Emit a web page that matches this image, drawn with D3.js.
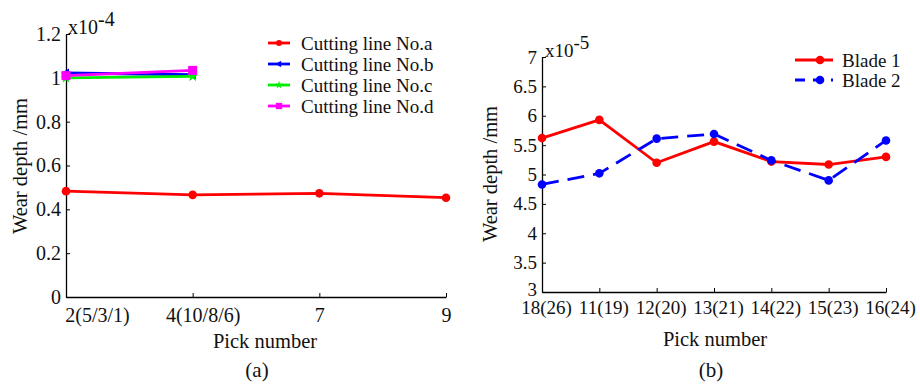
<!DOCTYPE html>
<html>
<head>
<meta charset="utf-8">
<script src="https://cdn.jsdelivr.net/npm/d3@7"></script>
<style>
  html, body { margin: 0; padding: 0; background: #fff; }
  svg { display: block; font-family: "Liberation Serif", "Times New Roman", serif; }
</style>
</head>
<body>
<svg id="chart" width="920" height="385"></svg>
<script>
// ---- Panel (a): wear depth per cutting line ----
const picksA = ["2(5/3/1)", "4(10/8/6)", "7", "9"];
const lineA = [0.483, 0.466, 0.473, 0.453];
const lineB = [1.022, 1.014];
const lineC = [1.000, 1.007];
const lineD = [1.010, 1.034];
const ticksA = [0, 0.2, 0.4, 0.6, 0.8, 1, 1.2];
const namesA = ["Cutting line No.a", "Cutting line No.b", "Cutting line No.c", "Cutting line No.d"];

// ---- Panel (b): wear depth per blade ----
const picksB = ["18(26)", "11(19)", "12(20)", "13(21)", "14(22)", "15(23)", "16(24)"];
const blade1 = [5.62, 5.93, 5.20, 5.56, 5.22, 5.17, 5.30];
const blade2 = [4.83, 5.02, 5.61, 5.69, 5.24, 4.90, 5.58];
const ticksB = [3, 3.5, 4, 4.5, 5, 5.5, 6, 6.5, 7];
const namesB = ["Blade 1", "Blade 2"];

const svg = d3.select("#chart");
const FS = 19;      // legend / panel b ticks
const FS_T = 20.5;  // axis titles

function drawAxes(g, x, y, yTicks, fmt, tickFs, xLabelDy) {
  const xAxis = d3.axisBottom(x).tickSizeInner(-4).tickSizeOuter(0).tickPadding(8);
  const gx = g.append("g").attr("transform", `translate(0,${y.range()[0]})`).call(xAxis);
  const yAxis = d3.axisLeft(y).tickValues(yTicks).tickFormat(fmt).tickSizeInner(-4).tickSizeOuter(0).tickPadding(5);
  const gy = g.append("g").attr("transform", `translate(${x.range()[0]},0)`).call(yAxis);
  [gx, gy].forEach(a => {
    a.attr("font-family", "Liberation Serif");
    a.selectAll("path.domain").attr("stroke", "#000").attr("stroke-width", 1.3);
    a.selectAll(".tick line").attr("stroke", "#000").attr("stroke-width", 1);
    a.selectAll(".tick text").attr("font-family", "Liberation Serif").attr("font-size", tickFs).attr("fill", "#111");
  });
  gx.selectAll(".tick text").attr("dy", xLabelDy);
  return { gx, gy };
}

function marker(g, type, cx, cy, color, s = 1) {
  if (type === "circle") {
    g.append("circle").attr("cx", cx).attr("cy", cy).attr("r", 4.3 * s).attr("fill", color);
  } else if (type === "square") {
    g.append("rect").attr("x", cx - 4.5 * s).attr("y", cy - 4.5 * s).attr("width", 9 * s).attr("height", 9 * s).attr("fill", color);
  } else if (type === "left") {
    g.append("path").attr("d", `M${cx - 5 * s},${cy} L${cx + 3 * s},${cy - 4.5 * s} L${cx + 3 * s},${cy + 4.5 * s} Z`).attr("fill", color);
  } else if (type === "star") {
    g.append("path").attr("d", d3.symbol(d3.symbolStar, 40 * s * s)()).attr("transform", `translate(${cx},${cy})`).attr("fill", color);
  }
}

// ---------- Panel (a) ----------
{
  const g = svg.append("g");
  const x = d3.scalePoint().domain(picksA).range([66, 446]);
  const y = d3.scaleLinear().domain([0, 1.2]).range([297, 34]);
  const { gx } = drawAxes(g, x, y, ticksA, d => d === 0 ? "0" : d === 1 ? "1" : d3.format(".1f")(d), 20, "0.85em");
  // first two category labels sit to the right of their ticks
  const labelShift = { "2(5/3/1)": 31, "4(10/8/6)": 10 };
  gx.selectAll(".tick text").attr("x", d => labelShift[d] || 0);

  const series = [
    { vals: lineA, color: "#ff0000", mk: "circle" },
    { vals: lineB, color: "#0000ff", mk: "left" },
    { vals: lineC, color: "#00ee00", mk: "star" },
    { vals: lineD, color: "#ff00ff", mk: "square" }
  ];
  const line = d3.line().x((d, i) => x(picksA[i])).y(d => y(d));
  series.forEach(s => {
    g.append("path").datum(s.vals).attr("d", line).attr("fill", "none")
      .attr("stroke", s.color).attr("stroke-width", 2.8);
    s.vals.forEach((v, i) => marker(g, s.mk, x(picksA[i]), y(v), s.color));
  });

  // exponent
  const ex = g.append("text").attr("x", 68).attr("y", 34).attr("font-size", 20).attr("fill", "#111");
  ex.append("tspan").text("x10");
  ex.append("tspan").attr("dy", -8).text("-4");

  // legend
  series.forEach((s, i) => {
    const ly = 43 + i * 21;
    g.append("line").attr("x1", 268).attr("x2", 290).attr("y1", ly).attr("y2", ly)
      .attr("stroke", s.color).attr("stroke-width", 2.8);
    marker(g, s.mk, 279, ly, s.color, 0.7);
    g.append("text").attr("x", 301).attr("y", ly).attr("dy", "0.35em")
      .attr("font-size", FS).attr("fill", "#111").text(namesA[i]);
  });

  g.append("text").attr("transform", "translate(27,166) rotate(-90)").attr("text-anchor", "middle")
    .attr("font-size", FS_T).attr("fill", "#111").text("Wear depth /mm");
  g.append("text").attr("x", 265).attr("y", 348).attr("text-anchor", "middle")
    .attr("font-size", FS_T).attr("fill", "#111").text("Pick number");
  g.append("text").attr("x", 257).attr("y", 377).attr("text-anchor", "middle")
    .attr("font-size", 21).attr("fill", "#111").text("(a)");
}

// ---------- Panel (b) ----------
{
  const g = svg.append("g");
  const x = d3.scalePoint().domain(picksB).range([542, 886]);
  const y = d3.scaleLinear().domain([3, 7]).range([292, 57]);
  const { gx, gy } = drawAxes(g, x, y, ticksB, d => Number.isInteger(d) ? String(d) : d3.format(".1f")(d), FS, "0.74em");
  gx.selectAll(".tick text").attr("x", 4);
  // lowest tick label raised slightly so it clears the category labels
  gy.selectAll(".tick text").filter(d => d === 3).attr("dy", "0.2em");

  const series = [
    { vals: blade1, color: "#ff0000", dash: null },
    { vals: blade2, color: "#0000ff", dash: "17,9" }
  ];
  const line = d3.line().x((d, i) => x(picksB[i])).y(d => y(d));
  series.forEach(s => {
    g.append("path").datum(s.vals).attr("d", line).attr("fill", "none")
      .attr("stroke", s.color).attr("stroke-width", 2.8).attr("stroke-dasharray", s.dash);
    s.vals.forEach((v, i) => marker(g, "circle", x(picksB[i]), y(v), s.color));
  });

  const ex = g.append("text").attr("x", 545).attr("y", 57).attr("font-size", FS).attr("fill", "#111");
  ex.append("tspan").text("x10");
  ex.append("tspan").attr("dy", -8).text("-5");

  series.forEach((s, i) => {
    const ly = 60 + i * 20;
    g.append("line").attr("x1", 795).attr("x2", 833).attr("y1", ly).attr("y2", ly)
      .attr("stroke", s.color).attr("stroke-width", 2.8).attr("stroke-dasharray", s.dash ? "10,8" : null);
    marker(g, "circle", 820, ly, s.color);
    g.append("text").attr("x", 842).attr("y", ly).attr("dy", "0.35em")
      .attr("font-size", FS).attr("fill", "#111").text(namesB[i]);
  });

  g.append("text").attr("transform", "translate(497,174) rotate(-90)").attr("text-anchor", "middle")
    .attr("font-size", FS_T).attr("fill", "#111").text("Wear depth /mm");
  g.append("text").attr("x", 715).attr("y", 346).attr("text-anchor", "middle")
    .attr("font-size", FS_T).attr("fill", "#111").text("Pick number");
  g.append("text").attr("x", 711).attr("y", 377).attr("text-anchor", "middle")
    .attr("font-size", 21).attr("fill", "#111").text("(b)");
}
</script>
</body>
</html>
